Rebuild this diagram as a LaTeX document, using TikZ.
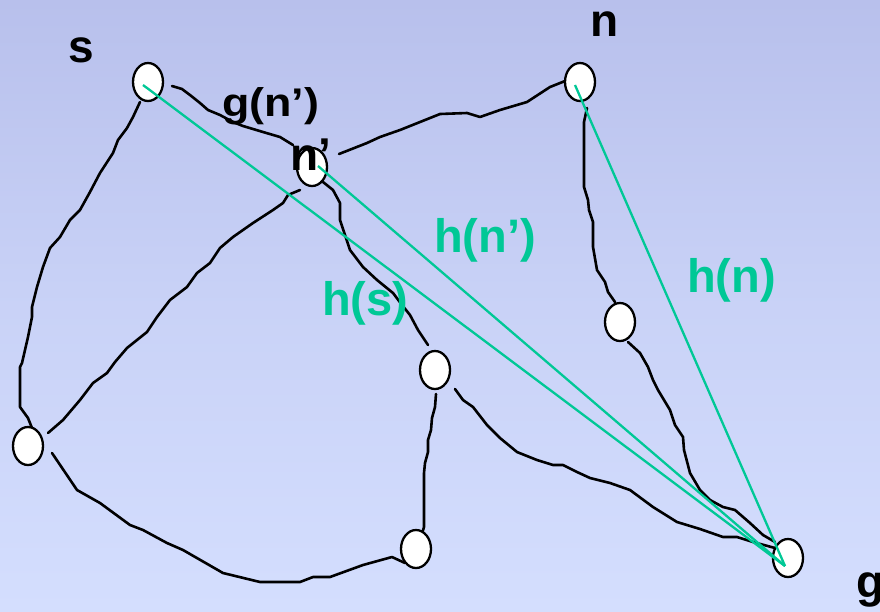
\documentclass[tikz,border=0pt]{standalone}
\usepackage{fontspec}
\setmainfont{Liberation Sans}
\usetikzlibrary{shapes.geometric}
\definecolor{bgtop}{RGB}{184,192,236}
\definecolor{bgbot}{RGB}{212,222,254}
\definecolor{hgreen}{RGB}{0,200,150}
\tikzset{
  vtx/.style={ellipse, draw=black, fill=white, line width=2.3pt, minimum width=30pt, minimum height=38pt, inner sep=0pt},
  wig/.style={draw=black, line width=2.6pt, line join=round, line cap=round},
  hline/.style={draw=hgreen, line width=2.3pt},
  blab/.style={anchor=base west, inner sep=0pt, text=black, font=\fontsize{46}{50}\selectfont\bfseries},
  glab/.style={anchor=base west, inner sep=0pt, text=hgreen, font=\fontsize{47}{50}\selectfont\bfseries}
}
\begin{document}
\begin{tikzpicture}[x=1pt,y=-1pt]
\useasboundingbox (0,0) rectangle (880,611);
\shade[top color=bgtop, bottom color=bgbot, middle color=bgbot!60!bgtop] (0,0) rectangle (880,611);

% wiggly edges
\draw[wig] (172,86) -- (182,89) -- (190,95) -- (200,103) -- (208,110) -- (220,115) -- (233,122) -- (243,126) -- (263,132) -- (280,137) -- (293,145);
\draw[wig] (339,154) -- (367,143) -- (380,137) -- (400,130) -- (420,122) -- (440,114) -- (467,113) -- (480,117) -- (500,110) -- (527,102) -- (550,87) -- (565,81);
\draw[wig] (140,102) -- (133,117) -- (127,128) -- (118,140) -- (113,153) -- (100,173) -- (90,192) -- (80,210) -- (70,220) -- (60,237) -- (50,248) -- (43,267) -- (37,287) -- (32,307) -- (32,317) -- (28,337) -- (22,363) -- (20,367) -- (20,407) -- (28,418) -- (32,428) -- (36,443);
\draw[wig] (300,190) -- (288,195) -- (283,203) -- (273,210) -- (253,223) -- (233,237) -- (220,248) -- (210,263) -- (197,273) -- (187,287) -- (170,300) -- (157,317) -- (147,332) -- (127,348) -- (115,362) -- (107,373) -- (93,383) -- (80,400) -- (63,420) -- (48,433);
\draw[wig] (52,453) -- (77,490) -- (100,503) -- (130,525) -- (143,530) -- (167,543) -- (183,550) -- (223,573) -- (260,582) -- (300,582) -- (313,577) -- (330,577) -- (363,565) -- (392,557) -- (405,563);
\draw[wig] (323,182) -- (333,190) -- (340,203) -- (340,220) -- (350,250) -- (363,267) -- (377,280) -- (393,293) -- (402,305) -- (410,315) -- (418,330) -- (428,345);
\draw[wig] (436,394) -- (435,407) -- (432,418) -- (431,430) -- (428,440) -- (428,452) -- (425,463) -- (424,473) -- (424,527) -- (421,537);
\draw[wig] (455,389) -- (463,400) -- (473,407) -- (487,425) -- (500,438) -- (517,452) -- (537,460) -- (553,465) -- (563,465) -- (577,472) -- (590,478) -- (610,483) -- (630,490) -- (653,507) -- (677,522) -- (700,529) -- (723,537) -- (737,537) -- (753,542) -- (775,548);
\draw[wig] (587,108) -- (584,122) -- (584,187) -- (588,200) -- (589,210) -- (593,222) -- (593,247) -- (597,270) -- (605,282) -- (608,292) -- (615,302);
\draw[wig] (628,342) -- (640,353) -- (648,367) -- (653,380) -- (658,390) -- (670,410) -- (675,425) -- (683,437) -- (684,450) -- (690,473) -- (700,490) -- (710,500) -- (723,507) -- (735,510) -- (750,523) -- (763,535) -- (775,542);

% vertices
\node[vtx] (s) at (148,82) {};
\node[vtx] (np) at (312,167) {};
\node[vtx] (n) at (580,82) {};
\node[vtx] (a) at (620,322) {};
\node[vtx] (b) at (435,370) {};
\node[vtx] (c) at (28,446) {};
\node[vtx] (d) at (416,549) {};
\node[vtx] (g) at (788,558) {};
\coordinate (gend) at (785,566);

% heuristic lines
\draw[hline] ([shift={(-5,3)}]s.center) -- (gend);
\draw[hline] ([shift={(6,-1)}]np.center) -- (gend);
\draw[hline] ([shift={(-5,3)}]n.center) -- (gend);

% labels
\node[blab] (ls) at (68,62) {s};
\node[blab] (ln) at (590,36) {n};
\node[anchor=base west, inner sep=0pt, font=\fontsize{40}{44}\selectfont\bfseries] (lgn) at (222,116) {\scalebox{1.12}[1]{g(n’)}};
\node[blab] (lnp) at (290,170) {n’};
\node[blab] (lg) at (856,597) {g};
\node[glab] (lhnp) at (434,252) {h(n’)};
\node[glab] (lhs) at (322,315) {h(s)};
\node[glab] (lhn) at (687,292) {h(n)};
\end{tikzpicture}
\end{document}
